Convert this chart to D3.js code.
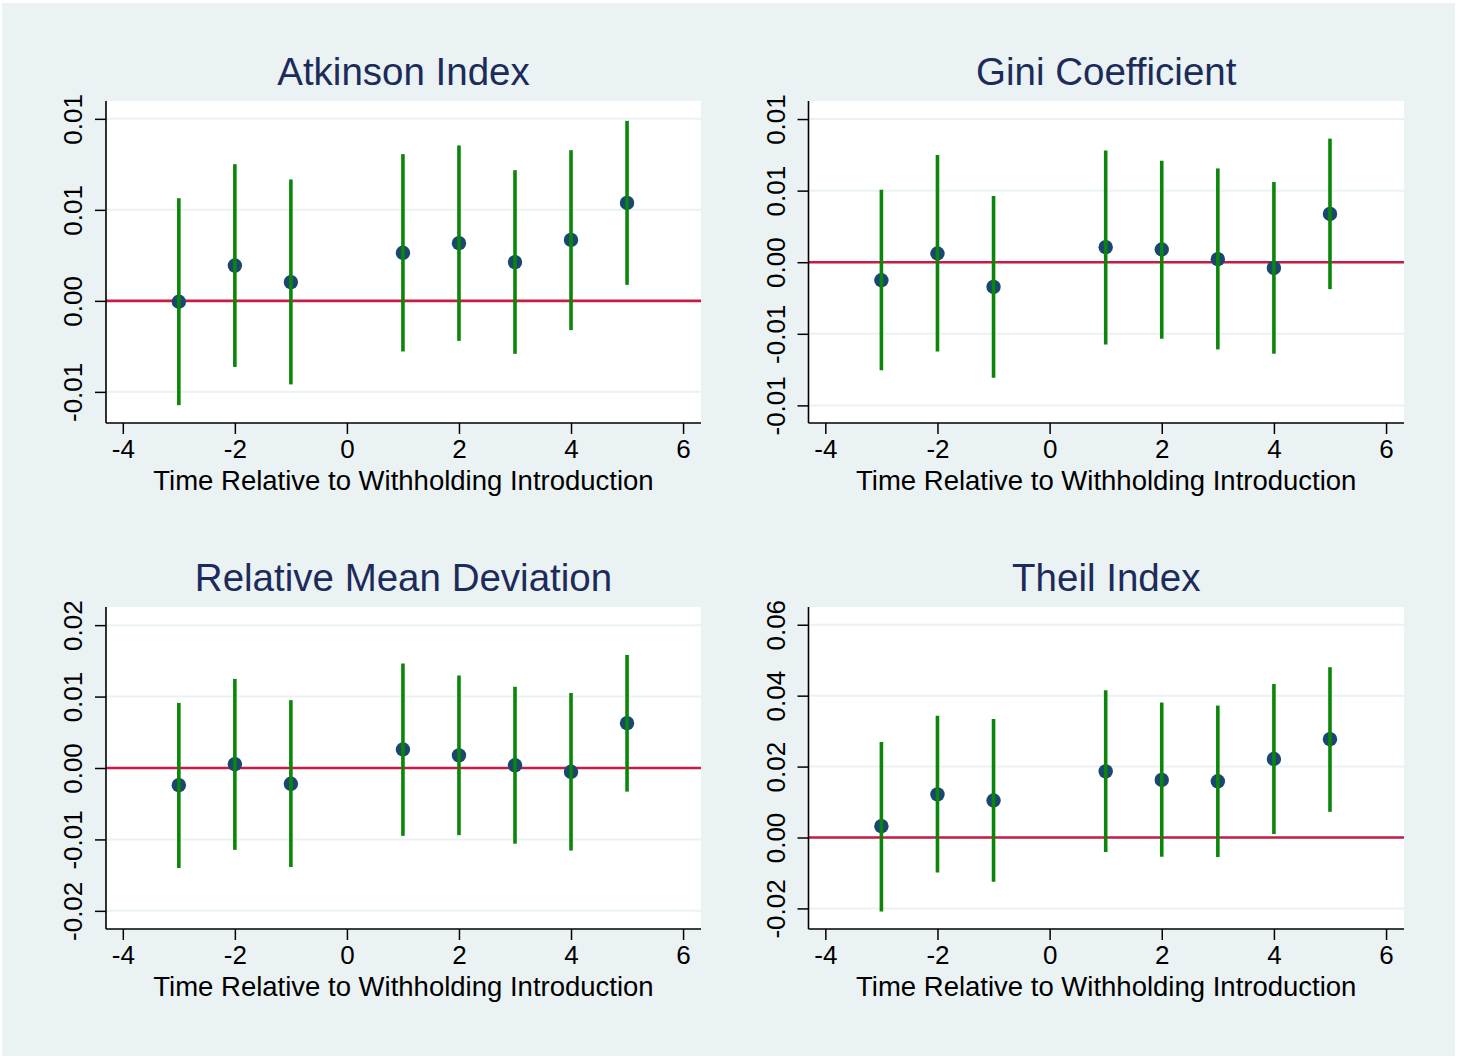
<!DOCTYPE html>
<html>
<head>
<meta charset="utf-8">
<script src="https://cdn.jsdelivr.net/npm/d3@7"></script>
<style>
  html, body { margin: 0; padding: 0; background: #ffffff; }
  svg { display: block; }
  text { font-family: "Liberation Sans", Arial, sans-serif; }
</style>
</head>
<body>
<script>
// ---------------- data ----------------
const periods = [-3, -2, -1, 1, 2, 3, 4, 5];
const xTicks = [-4, -2, 0, 2, 4, 6];
const xLabel = "Time Relative to Withholding Introduction";

const panelTitles = ["Atkinson Index", "Gini Coefficient", "Relative Mean Deviation", "Theil Index"];

const atkinsonCoef  = [-0.00005, 0.00194, 0.00103, 0.00264, 0.00317, 0.00213, 0.00335, 0.00538];
const atkinsonLower = [-0.00573, -0.00363, -0.00459, -0.00278, -0.00220, -0.00291, -0.00161, 0.00088];
const atkinsonUpper = [0.00564, 0.00751, 0.00667, 0.00806, 0.00854, 0.00718, 0.00828, 0.00989];
const atkinsonTicks = [-0.005, 0, 0.005, 0.01];
const atkinsonTickLabels = ["-0.01", "0.00", "0.01", "0.01"];
const atkinsonDomain = [-0.00671, 0.01098];

const giniCoef  = [-0.00126, 0.00061, -0.00172, 0.00105, 0.00089, 0.00021, -0.00040, 0.00337];
const giniLower = [-0.00755, -0.00623, -0.00807, -0.00574, -0.00535, -0.00609, -0.00639, -0.00188];
const giniUpper = [0.00507, 0.00748, 0.00462, 0.00781, 0.00709, 0.00655, 0.00560, 0.00863];
const giniTicks = [-0.01, -0.005, 0, 0.005, 0.01];
const giniTickLabels = ["-0.01", "-0.01", "0.00", "0.01", "0.01"];
const giniDomain = [-0.01123, 0.01126];

const rmdCoef  = [-0.00240, 0.00053, -0.00221, 0.00259, 0.00177, 0.00038, -0.00053, 0.00628];
const rmdLower = [-0.01400, -0.01146, -0.01386, -0.00950, -0.00940, -0.01060, -0.01156, -0.00331];
const rmdUpper = [0.00911, 0.01247, 0.00950, 0.01463, 0.01295, 0.01137, 0.01050, 0.01583];
const rmdTicks = [-0.02, -0.01, 0, 0.01, 0.02];
const rmdTickLabels = ["-0.02", "-0.01", "0.00", "0.01", "0.02"];
const rmdDomain = [-0.02254, 0.02254];

const theilCoef  = [0.00319, 0.01217, 0.01043, 0.01865, 0.01623, 0.01585, 0.02213, 0.02773];
const theilLower = [-0.02087, -0.00986, -0.01246, -0.00406, -0.00541, -0.00551, 0.00097, 0.00725];
const theilUpper = [0.02696, 0.03430, 0.03343, 0.04155, 0.03807, 0.03720, 0.04329, 0.04802];
const theilTicks = [-0.02, 0, 0.02, 0.04, 0.06];
const theilTickLabels = ["-0.02", "0.00", "0.02", "0.04", "0.06"];
const theilDomain = [-0.0258, 0.065];

// ---------------- layout & style ----------------
const W = 1463, H = 1057;
const C = {
  bg: "#eaf2f3", plot: "#ffffff", grid: "#eaf2f3",
  title: "#1c2b5a", zero: "#c81a43", ci: "#0b860b", dot: "#1a476f", axis: "#000000", text: "#000000"
};

const panels = [
  { title: panelTitles[0], coef: atkinsonCoef, lo: atkinsonLower, hi: atkinsonUpper, ticks: atkinsonTicks, labels: atkinsonTickLabels, domain: atkinsonDomain, left: 106, right: 701, top: 101, bottom: 423 },
  { title: panelTitles[1], coef: giniCoef, lo: giniLower, hi: giniUpper, ticks: giniTicks, labels: giniTickLabels, domain: giniDomain, left: 808.5, right: 1404, top: 101, bottom: 423 },
  { title: panelTitles[2], coef: rmdCoef, lo: rmdLower, hi: rmdUpper, ticks: rmdTicks, labels: rmdTickLabels, domain: rmdDomain, left: 106, right: 701, top: 607, bottom: 929 },
  { title: panelTitles[3], coef: theilCoef, lo: theilLower, hi: theilUpper, ticks: theilTicks, labels: theilTickLabels, domain: theilDomain, left: 808.5, right: 1404, top: 607, bottom: 929 }
];

const svg = d3.select("body").append("svg").attr("width", W).attr("height", H);
svg.append("rect").attr("x", 2).attr("y", 3).attr("width", 1453).attr("height", 1053).attr("fill", C.bg);

panels.forEach(p => {
  const g = svg.append("g");
  const x = d3.scaleLinear().domain([-4.3, 6.32]).range([p.left, p.right]);
  const y = d3.scaleLinear().domain(p.domain).range([p.bottom, p.top]);

  // plot region
  g.append("rect").attr("x", p.left).attr("y", p.top)
    .attr("width", p.right - p.left).attr("height", p.bottom - p.top).attr("fill", C.plot);

  // gridlines
  g.selectAll(".grid").data(p.ticks).enter().append("line")
    .attr("x1", p.left).attr("x2", p.right)
    .attr("y1", d => y(d)).attr("y2", d => y(d))
    .attr("stroke", C.grid).attr("stroke-width", 2);

  // zero line
  g.append("line").attr("x1", p.left).attr("x2", p.right)
    .attr("y1", y(0)).attr("y2", y(0))
    .attr("stroke", C.zero).attr("stroke-width", 2.6);

  // points
  g.selectAll(".dot").data(periods).enter().append("circle")
    .attr("cx", d => x(d)).attr("cy", (d, i) => y(p.coef[i]))
    .attr("r", 7.2).attr("fill", C.dot);

  // CI bars
  g.selectAll(".ci").data(periods).enter().append("line")
    .attr("x1", d => x(d)).attr("x2", d => x(d))
    .attr("y1", (d, i) => y(p.lo[i])).attr("y2", (d, i) => y(p.hi[i]))
    .attr("stroke", C.ci).attr("stroke-width", 3.6);

  // x axis
  const xAxis = d3.axisBottom(x).tickValues(xTicks).tickSize(11).tickPadding(6).tickFormat(d3.format("d"));
  const xg = g.append("g").attr("transform", `translate(0,${p.bottom})`).call(xAxis);
  xg.select(".domain").remove();
  xg.selectAll("line").attr("stroke", C.axis).attr("stroke-width", 1.5);
  xg.selectAll("text").attr("font-size", 26).attr("fill", C.text)
    .attr("font-family", "Liberation Sans, Arial, sans-serif")
    .text(d => d < 0 ? "-" + Math.abs(d) : String(d));
  g.append("line").attr("x1", p.left).attr("x2", p.right).attr("y1", p.bottom).attr("y2", p.bottom)
    .attr("stroke", C.axis).attr("stroke-width", 1.6);

  // y axis
  const yAxis = d3.axisLeft(y).tickValues(p.ticks).tickSize(11).tickFormat((d, i) => p.labels[i]);
  const yg = g.append("g").attr("transform", `translate(${p.left},0)`).call(yAxis);
  yg.select(".domain").remove();
  yg.selectAll("line").attr("stroke", C.axis).attr("stroke-width", 1.5);
  yg.selectAll("text")
    .attr("font-size", 26).attr("fill", C.text)
    .attr("font-family", "Liberation Sans, Arial, sans-serif")
    .attr("x", 0).attr("y", 0).attr("dy", null)
    .attr("text-anchor", "middle")
    .attr("transform", "translate(-24,0) rotate(-90)");
  g.append("line").attr("x1", p.left).attr("x2", p.left).attr("y1", p.top).attr("y2", p.bottom)
    .attr("stroke", C.axis).attr("stroke-width", 1.6);

  // axis title
  const cx = (p.left + p.right) / 2;
  g.append("text").attr("x", cx).attr("y", p.bottom + 67).attr("text-anchor", "middle")
    .attr("font-size", 27.5).attr("fill", C.text).text(xLabel);

  // panel title
  g.append("text").attr("x", cx).attr("y", p.top - 16).attr("text-anchor", "middle")
    .attr("font-size", 38.5).attr("fill", C.title).text(p.title);
});
</script>
</body>
</html>
